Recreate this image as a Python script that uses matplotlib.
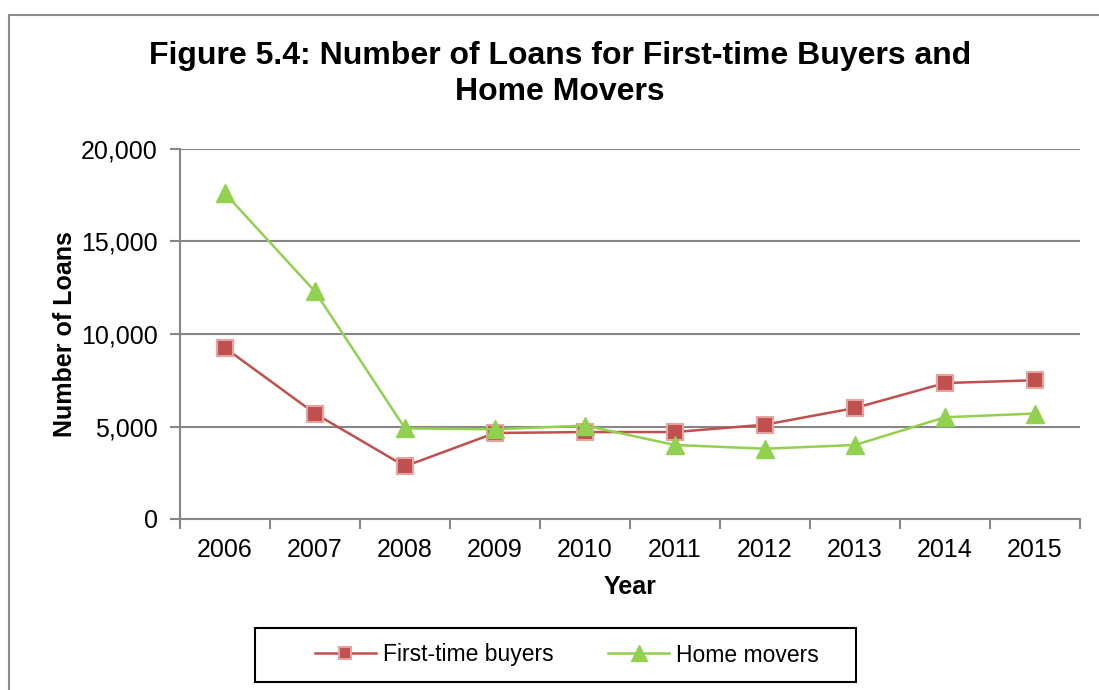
import matplotlib
matplotlib.use("Agg")
import matplotlib.pyplot as plt
from matplotlib.patches import Rectangle
from matplotlib.ticker import FuncFormatter, FixedLocator

years = ["2006", "2007", "2008", "2009", "2010", "2011", "2012", "2013", "2014", "2015"]
first_time_buyers = [9250, 5700, 2850, 4650, 4700, 4700, 5100, 6000, 7350, 7500]
home_movers = [17600, 12300, 4900, 4850, 5050, 4000, 3800, 4000, 5500, 5700]
y_ticks = [0, 5000, 10000, 15000, 20000]

plt.rcParams['font.family'] = ['Liberation Sans', 'DejaVu Sans']

W, H = 1099, 690
fig = plt.figure(figsize=(W / 100, H / 100), dpi=100)
fig.patch.set_facecolor("white")

# outer chart border (extends past right/bottom edges)
fig.patches.append(Rectangle((9 / W, -0.2), 2.0, (H - 15) / H + 0.2,
                             transform=fig.transFigure, fill=False,
                             edgecolor="#8c8c8c", linewidth=1.5))

ax = fig.add_axes([180 / W, 1 - 519 / H, 900 / W, 370 / H])
x = list(range(len(years)))
grid_c = "#868686"

ax.plot(x, first_time_buyers, color="#C0504D", linewidth=1.8, marker="s",
        markersize=11, markerfacecolor="#C0504D", markeredgecolor="#E6A3A1",
        markeredgewidth=1.5, label="First-time buyers", zorder=3)
ax.plot(x, home_movers, color="#92D050", linewidth=1.8, marker="^",
        markersize=13, markerfacecolor="#92D050", markeredgecolor="#92D050",
        label="Home movers", zorder=4)

ax.set_xlim(-0.5, len(years) - 0.5)
ax.set_ylim(0, 20000)
ax.set_yticks(y_ticks)
ax.yaxis.set_major_formatter(FuncFormatter(lambda v, p: f"{int(v):,}"))
ax.set_xticks(x)
ax.set_xticklabels(years)
ax.xaxis.set_minor_locator(FixedLocator([i - 0.5 for i in range(len(years) + 1)]))
ax.tick_params(axis="x", which="major", length=0, pad=14, labelsize=18)
ax.tick_params(axis="x", which="minor", length=7, width=1.5, color=grid_c, direction="out")
ax.tick_params(axis="y", length=7, width=1.5, color=grid_c, pad=9, labelsize=18)

ax.grid(axis="y", color=grid_c, linewidth=1.5)
ax.set_axisbelow(True)
for s in ["top", "right"]:
    ax.spines[s].set_visible(False)
for s in ["left", "bottom"]:
    ax.spines[s].set_color(grid_c)
    ax.spines[s].set_linewidth(1.5)

ax.set_xlabel("Year", fontsize=18, fontweight="bold")
ax.xaxis.set_label_coords(0.5, (519 - 575) / 370)
ax.set_ylabel("Number of Loans", fontsize=18, fontweight="bold")
ax.yaxis.set_label_coords((77 - 180) / 900, 0.5)

fig.text(560 / W, 1 - 74 / H,
         "Figure 5.4: Number of Loans for First-time Buyers and\nHome Movers",
         ha="center", va="center", fontsize=23, fontweight="bold",
         linespacing=1.27)

# legend frame
fig.patches.append(Rectangle((255 / W, 1 - 682 / H), 601 / W, 54 / H,
                             transform=fig.transFigure, fill=False,
                             edgecolor="black", linewidth=1.5))
leg = fig.legend(loc="center left", bbox_to_anchor=(315 / W, 1 - 655 / H), ncol=2,
                 frameon=False, fontsize=16.5, handlelength=2.65,
                 handletextpad=0.3, columnspacing=2.4, borderpad=0,
                 markerscale=0.85, borderaxespad=0)

fig.savefig("out.png", dpi=100, facecolor="white")
